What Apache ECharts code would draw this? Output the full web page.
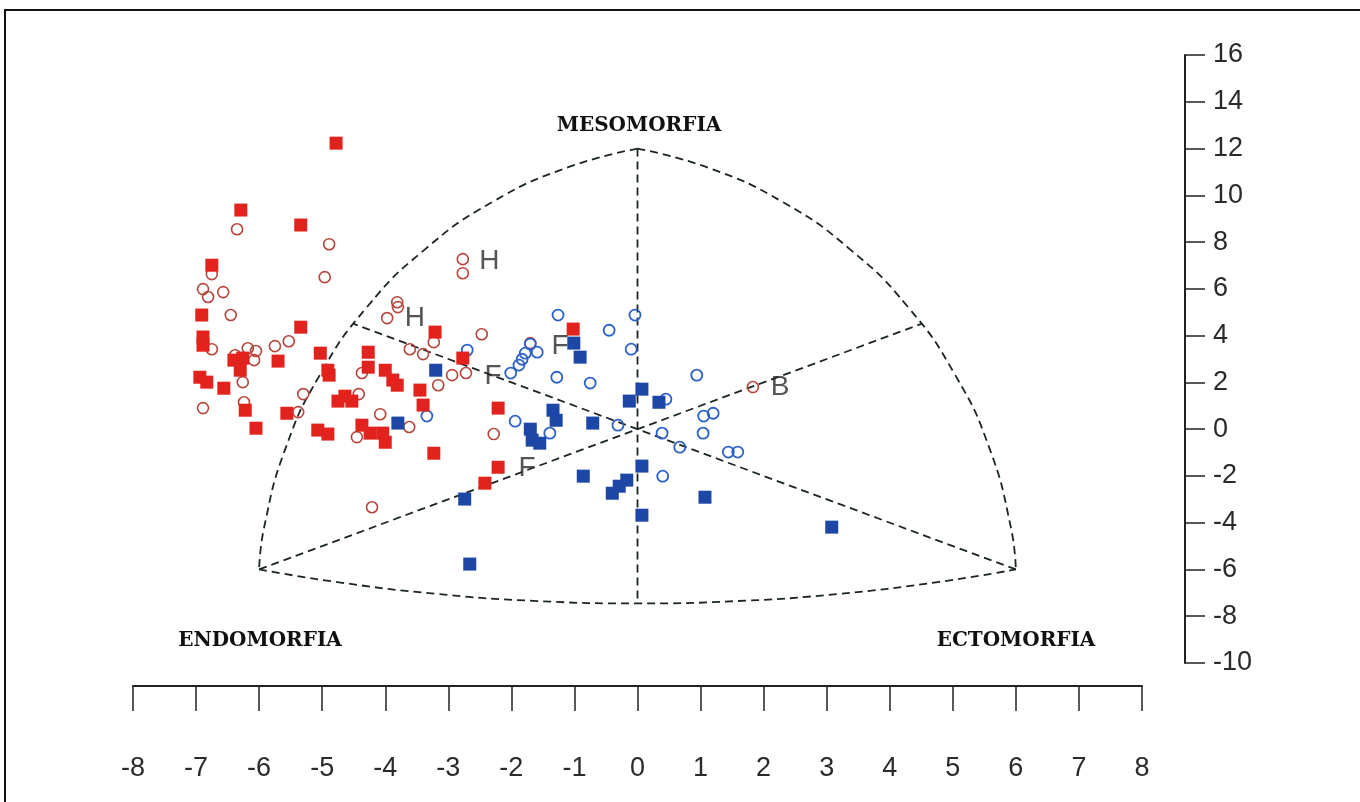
<!DOCTYPE html>
<html>
<head>
<meta charset="utf-8">
<script src="https://cdn.jsdelivr.net/npm/echarts@6/dist/echarts.min.js"></script>
<style>
html, body { margin: 0; padding: 0; background: #fff; }
#chart { width: 1360px; height: 802px; }
</style>
</head>
<body>
<div id="chart"></div>
<script>
// somatochart points (x, y in chart units)
var redSquares = [
    [-4.78, 12.23], [-6.29, 9.37], [-5.34, 8.73], [-6.75, 7.01], [-6.91, 4.88],
    [-6.89, 3.94], [-6.89, 3.59], [-6.40, 2.95], [-6.26, 3.04], [-6.30, 2.52],
    [-6.94, 2.22], [-6.83, 2.01], [-6.56, 1.75], [-6.22, 0.81], [-6.05, 0.04],
    [-5.70, 2.91], [-5.34, 4.36], [-5.03, 3.25], [-4.91, 2.52], [-4.89, 2.31],
    [-5.56, 0.68], [-5.07, -0.04], [-4.91, -0.21], [-4.75, 1.20], [-4.64, 1.41],
    [-4.53, 1.20], [-4.27, 3.29], [-4.27, 2.65], [-4.00, 2.52], [-3.88, 2.10],
    [-3.81, 1.88], [-3.21, 4.15], [-2.77, 3.04], [-3.45, 1.67], [-3.40, 1.03],
    [-4.37, 0.17], [-4.24, -0.17], [-4.04, -0.17], [-4.00, -0.56], [-3.23, -1.03],
    [-1.02, 4.28], [-2.21, 0.90], [-2.21, -1.63], [-2.42, -2.31]
];
var redCircles = [
    [-6.35, 8.55], [-4.89, 7.91], [-4.96, 6.50], [-6.75, 6.63], [-6.89, 5.99],
    [-6.81, 5.65], [-6.57, 5.86], [-6.45, 4.88], [-2.77, 7.27], [-2.77, 6.67],
    [-3.81, 5.43], [-3.80, 5.22], [-3.97, 4.75], [-6.75, 3.42], [-6.18, 3.46],
    [-6.05, 3.34], [-6.38, 3.16], [-6.08, 2.95], [-5.75, 3.55], [-5.53, 3.76],
    [-6.26, 2.01], [-6.24, 1.15], [-6.89, 0.90], [-5.30, 1.50], [-5.38, 0.73],
    [-3.23, 3.72], [-3.61, 3.42], [-3.40, 3.21], [-4.37, 2.40], [-4.42, 1.50],
    [-4.08, 0.64], [-3.62, 0.09], [-4.45, -0.34], [-2.94, 2.31], [-2.72, 2.40],
    [-3.16, 1.88], [-2.47, 4.06], [-2.28, -0.21], [-4.21, -3.34], [1.83, 1.80],
    [-1.70, 3.68]
];
var blueSquares = [
    [-3.20, 2.52], [-3.80, 0.26], [-1.01, 3.68], [-0.91, 3.08], [-0.13, 1.20],
    [0.07, 1.71], [0.34, 1.15], [-1.34, 0.81], [-1.29, 0.38], [-1.70, 0.00],
    [-1.67, -0.47], [-1.55, -0.60], [-0.71, 0.26], [0.07, -1.58], [-0.86, -2.01],
    [-0.40, -2.74], [-0.29, -2.44], [-0.17, -2.18], [-2.74, -2.99], [0.07, -3.68],
    [1.07, -2.91], [3.08, -4.19], [-2.66, -5.77]
];
var blueCircles = [
    [-1.26, 4.88], [-0.04, 4.88], [-0.45, 4.23], [-0.10, 3.42], [-1.70, 3.64],
    [-1.59, 3.29], [-1.78, 3.25], [-1.83, 2.99], [-1.88, 2.74], [-2.01, 2.40],
    [-2.70, 3.38], [-1.28, 2.22], [-0.75, 1.97], [0.94, 2.31], [0.45, 1.28],
    [1.05, 0.56], [1.20, 0.68], [-3.34, 0.56], [-1.94, 0.34], [-1.39, -0.17],
    [-0.31, 0.17], [0.39, -0.17], [1.04, -0.17], [0.67, -0.77], [1.44, -0.98],
    [1.59, -0.98], [0.40, -2.01]
];
// letters written beside some points
var notes = [
    [-2.35, 7.19, 'H'], [-3.53, 4.75, 'H'], [-1.23, 3.55, 'F'],
    [-2.29, 2.27, 'F'], [-1.75, -1.67, 'F'], [2.26, 1.80, 'B']
];

// outline of the somatochart
var leftArc = [
    [0, 12], [-1.13, 11.17], [-2.31, 9.70], [-3.37, 7.69], [-4.29, 5.22],
    [-5.03, 2.35], [-5.58, -0.81], [-5.92, -4.19], [-6, -6]
];
var rightArc = [
    [0, 12], [1.13, 11.17], [2.31, 9.70], [3.37, 7.69], [4.29, 5.22],
    [5.03, 2.35], [5.58, -0.81], [5.92, -4.19], [6, -6]
];
var bottomArc = [
    [-6, -6], [-4.76, -6.54], [-3.17, -7.05], [-1.59, -7.35], [0, -7.45],
    [1.59, -7.35], [3.17, -7.05], [4.76, -6.54], [6, -6]
];
var spokes = [
    [[0, 12], [0, -7.45]],
    [[-6, -6], [4.5, 4.5]],
    [[6, -6], [-4.5, 4.5]]
];

var axisFont = "'Liberation Sans', Arial, sans-serif";
var titleFont = "'DejaVu Serif', 'Liberation Serif', serif";
var dash = [8, 5];

var chart = echarts.init(document.getElementById('chart'));

var series = [];
[leftArc, rightArc, bottomArc].forEach(function (arc) {
    series.push({
        type: 'line',
        data: arc,
        smooth: true,
        symbol: 'none',
        silent: true,
        z: 1,
        lineStyle: { color: '#1b2526', width: 1.8, type: dash }
    });
});
spokes.forEach(function (s) {
    series.push({
        type: 'line',
        data: s,
        symbol: 'none',
        silent: true,
        z: 1,
        lineStyle: { color: '#1b2526', width: 1.8, type: dash }
    });
});
series.push(
    {
        name: 'redCircles',
        type: 'scatter',
        data: redCircles,
        symbol: 'circle',
        symbolSize: 11,
        z: 3,
        itemStyle: { color: 'rgba(0,0,0,0)', borderColor: '#b8453c', borderWidth: 1.6, opacity: 1 }
    },
    {
        name: 'redSquares',
        type: 'scatter',
        data: redSquares,
        symbol: 'rect',
        symbolSize: 13,
        z: 4,
        itemStyle: { color: '#e2231d', opacity: 1 }
    },
    {
        name: 'blueSquares',
        type: 'scatter',
        data: blueSquares,
        symbol: 'rect',
        symbolSize: 13,
        z: 4,
        itemStyle: { color: '#1d47a6', opacity: 1 }
    },
    {
        name: 'blueCircles',
        type: 'scatter',
        data: blueCircles,
        symbol: 'circle',
        symbolSize: 11,
        z: 3,
        itemStyle: { color: 'rgba(0,0,0,0)', borderColor: '#2c62c9', borderWidth: 1.8, opacity: 1 }
    },
    {
        name: 'notes',
        type: 'scatter',
        data: notes.map(function (n) { return { value: [n[0], n[1]], name: n[2] }; }),
        symbolSize: 1,
        z: 5,
        itemStyle: { color: 'rgba(0,0,0,0)' },
        label: {
            show: true,
            position: 'inside',
            formatter: '{b}',
            color: '#2b2b2b',
            fontSize: 28,
            fontFamily: "'Liberation Sans', Arial, sans-serif"
        }
    }
);

chart.setOption({
    animation: false,
    backgroundColor: '#fff',
    grid: {
        left: 133,
        right: 218,
        top: 55,
        bottom: 139,
        containLabel: false
    },
    xAxis: {
        type: 'value',
        min: -8,
        max: 8,
        interval: 1,
        position: 'bottom',
        offset: 23,
        splitLine: { show: false },
        axisLine: { onZero: false, lineStyle: { color: '#222', width: 2 } },
        axisTick: { length: 25, lineStyle: { color: '#222', width: 1.5 } },
        axisLabel: { margin: 69, color: '#2a2a2a', fontSize: 27, fontFamily: axisFont }
    },
    yAxis: {
        type: 'value',
        min: -10,
        max: 16,
        interval: 2,
        position: 'right',
        offset: 43,
        splitLine: { show: false },
        axisLine: { onZero: false, lineStyle: { color: '#222', width: 2 } },
        axisTick: { length: 20, lineStyle: { color: '#222', width: 1.5 } },
        axisLabel: { margin: 28, color: '#2a2a2a', fontSize: 27, fontFamily: axisFont }
    },
    graphic: [
        {
            type: 'rect',
            shape: { x: 5, y: 10, width: 1400, height: 900 },
            style: { fill: 'none', stroke: '#111', lineWidth: 2 },
            silent: true
        },
        {
            type: 'text',
            x: 639, y: 126,
            style: { text: 'MESOMORFIA', fill: '#111', font: 'bold 20px ' + titleFont, align: 'center', verticalAlign: 'middle' }
        },
        {
            type: 'text',
            x: 260, y: 641,
            style: { text: 'ENDOMORFIA', fill: '#111', font: 'bold 20px ' + titleFont, align: 'center', verticalAlign: 'middle' }
        },
        {
            type: 'text',
            x: 1016, y: 641,
            style: { text: 'ECTOMORFIA', fill: '#111', font: 'bold 20px ' + titleFont, align: 'center', verticalAlign: 'middle' }
        }
    ],
    series: series
});
</script>
</body>
</html>
